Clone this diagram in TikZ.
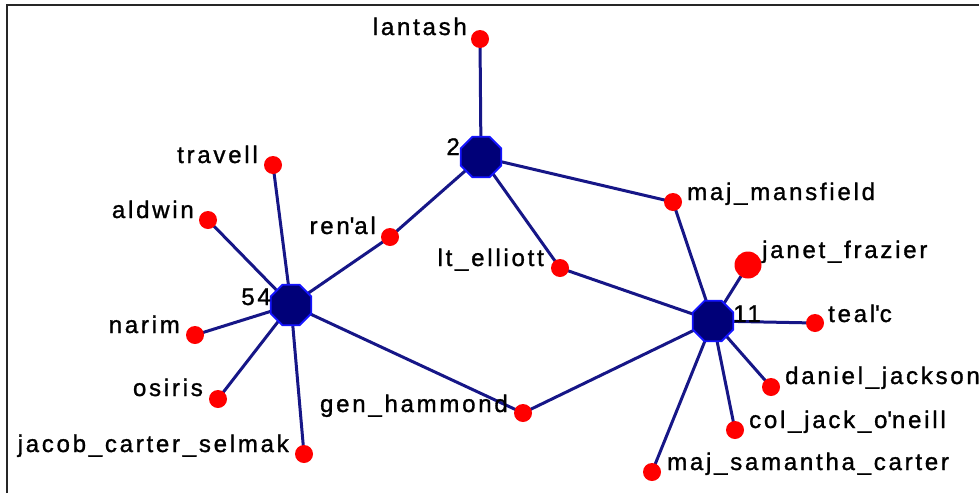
\documentclass[tikz,border=0pt]{standalone}
\usepackage{fontspec}
\setmainfont{Liberation Sans}[LetterSpace=11.5, FakeBold=1.2]
\usetikzlibrary{shapes.geometric,backgrounds}
\definecolor{edgeblue}{RGB}{22,22,135}
\definecolor{hubfill}{RGB}{0,0,120}
\definecolor{hubline}{RGB}{20,20,255}
\definecolor{dotred}{RGB}{255,0,0}
\tikzset{
  hub/.style={regular polygon, regular polygon sides=8, minimum size=44pt, inner sep=0pt,
    fill=hubfill, draw=hubline, line width=1.8pt},
  dot/.style={circle, fill=dotred, minimum size=18pt, inner sep=0pt},
  bigdot/.style={circle, fill=dotred, minimum size=27pt, inner sep=0pt},
  lbl/.style={inner sep=0pt, font=\fontsize{24}{28}\selectfont, text=black},
  edge/.style={draw=edgeblue, line width=3pt}
}
\begin{document}
\begin{tikzpicture}[x=1pt,y=-1pt]
\useasboundingbox (0,0) rectangle (979,493);
\draw[line width=2pt, black!85] (7,493) -- (7,5) -- (979,5);
% hubs
\node[hub] (h2) at (481,157) {};
\node[hub] (h54) at (291,305) {};
\node[hub] (h11) at (713,321) {};
% dots
\node[dot] (lantash) at (480,39) {};
\node[dot] (travell) at (273,165) {};
\node[dot] (aldwin) at (208,220) {};
\node[dot] (renal) at (390,237) {};
\node[dot] (narim) at (195,335) {};
\node[dot] (osiris) at (218,399) {};
\node[dot] (jacob) at (304,454) {};
\node[dot] (gen) at (523,413) {};
\node[dot] (elliott) at (560,268) {};
\node[dot] (mansfield) at (673,202) {};
\node[bigdot] (janet) at (748,265) {};
\node[dot] (tealc) at (815,323) {};
\node[dot] (daniel) at (771,387) {};
\node[dot] (jack) at (735,430) {};
\node[dot] (sam) at (652,472) {};
% labels
\node[lbl, anchor=base east] (l2) at (460,155) {2};
\node[lbl, anchor=base east] (l54) at (271,305) {54};
\node[lbl, anchor=base west] (l11) at (733,322) {11};
\node[lbl, anchor=base east] (llantash) at (467,35) {lantash};
\node[lbl, anchor=base east] (ltravell) at (258,163) {travell};
\node[lbl, anchor=base east] (laldwin) at (194,218) {aldwin};
\node[lbl, anchor=base east] (lrenal) at (376,234) {ren\textquotesingle al};
\node[lbl, anchor=base east] (lnarim) at (180,333) {narim};
\node[lbl, anchor=base east] (losiris) at (203,396) {osiris};
\node[lbl, anchor=base east] (ljacob) at (289,452) {jacob\_carter\_selmak};
\node[lbl, anchor=base east] (lgen) at (508,412) {gen\_hammond};
\node[lbl, anchor=base east] (lelliott) at (544,266) {lt\_elliott};
\node[lbl, anchor=base west] (lmansfield) at (687,200) {maj\_mansfield};
\node[lbl, anchor=base west] (ljanet) at (762,258) {janet\_frazier};
\node[lbl, anchor=base west] (ltealc) at (828,322) {teal\textquotesingle c};
\node[lbl, anchor=base west] (ldaniel) at (785,384) {daniel\_jackson};
\node[lbl, anchor=base west] (ljack) at (749,428) {col\_jack\_o\textquotesingle neill};
\node[lbl, anchor=base west] (lsam) at (667,470) {maj\_samantha\_carter};
% edges
\begin{pgfonlayer}{background}
\draw[edge] (h2.center) -- (lantash.center);
\draw[edge] (h2.center) -- (renal.center);
\draw[edge] (h2.center) -- (elliott.center);
\draw[edge] (h2.center) -- (mansfield.center);
\draw[edge] (h54.center) -- (renal.center);
\draw[edge] (h54.center) -- (travell.center);
\draw[edge] (h54.center) -- (aldwin.center);
\draw[edge] (h54.center) -- (narim.center);
\draw[edge] (h54.center) -- (osiris.center);
\draw[edge] (h54.center) -- (jacob.center);
\draw[edge] (h54.center) -- (gen.center);
\draw[edge] (h11.center) -- (gen.center);
\draw[edge] (h11.center) -- (elliott.center);
\draw[edge] (h11.center) -- (mansfield.center);
\draw[edge] (h11.center) -- (janet.center);
\draw[edge] (h11.center) -- (tealc.center);
\draw[edge] (h11.center) -- (daniel.center);
\draw[edge] (h11.center) -- (jack.center);
\draw[edge] (h11.center) -- (sam.center);
\end{pgfonlayer}
\end{tikzpicture}
\end{document}
